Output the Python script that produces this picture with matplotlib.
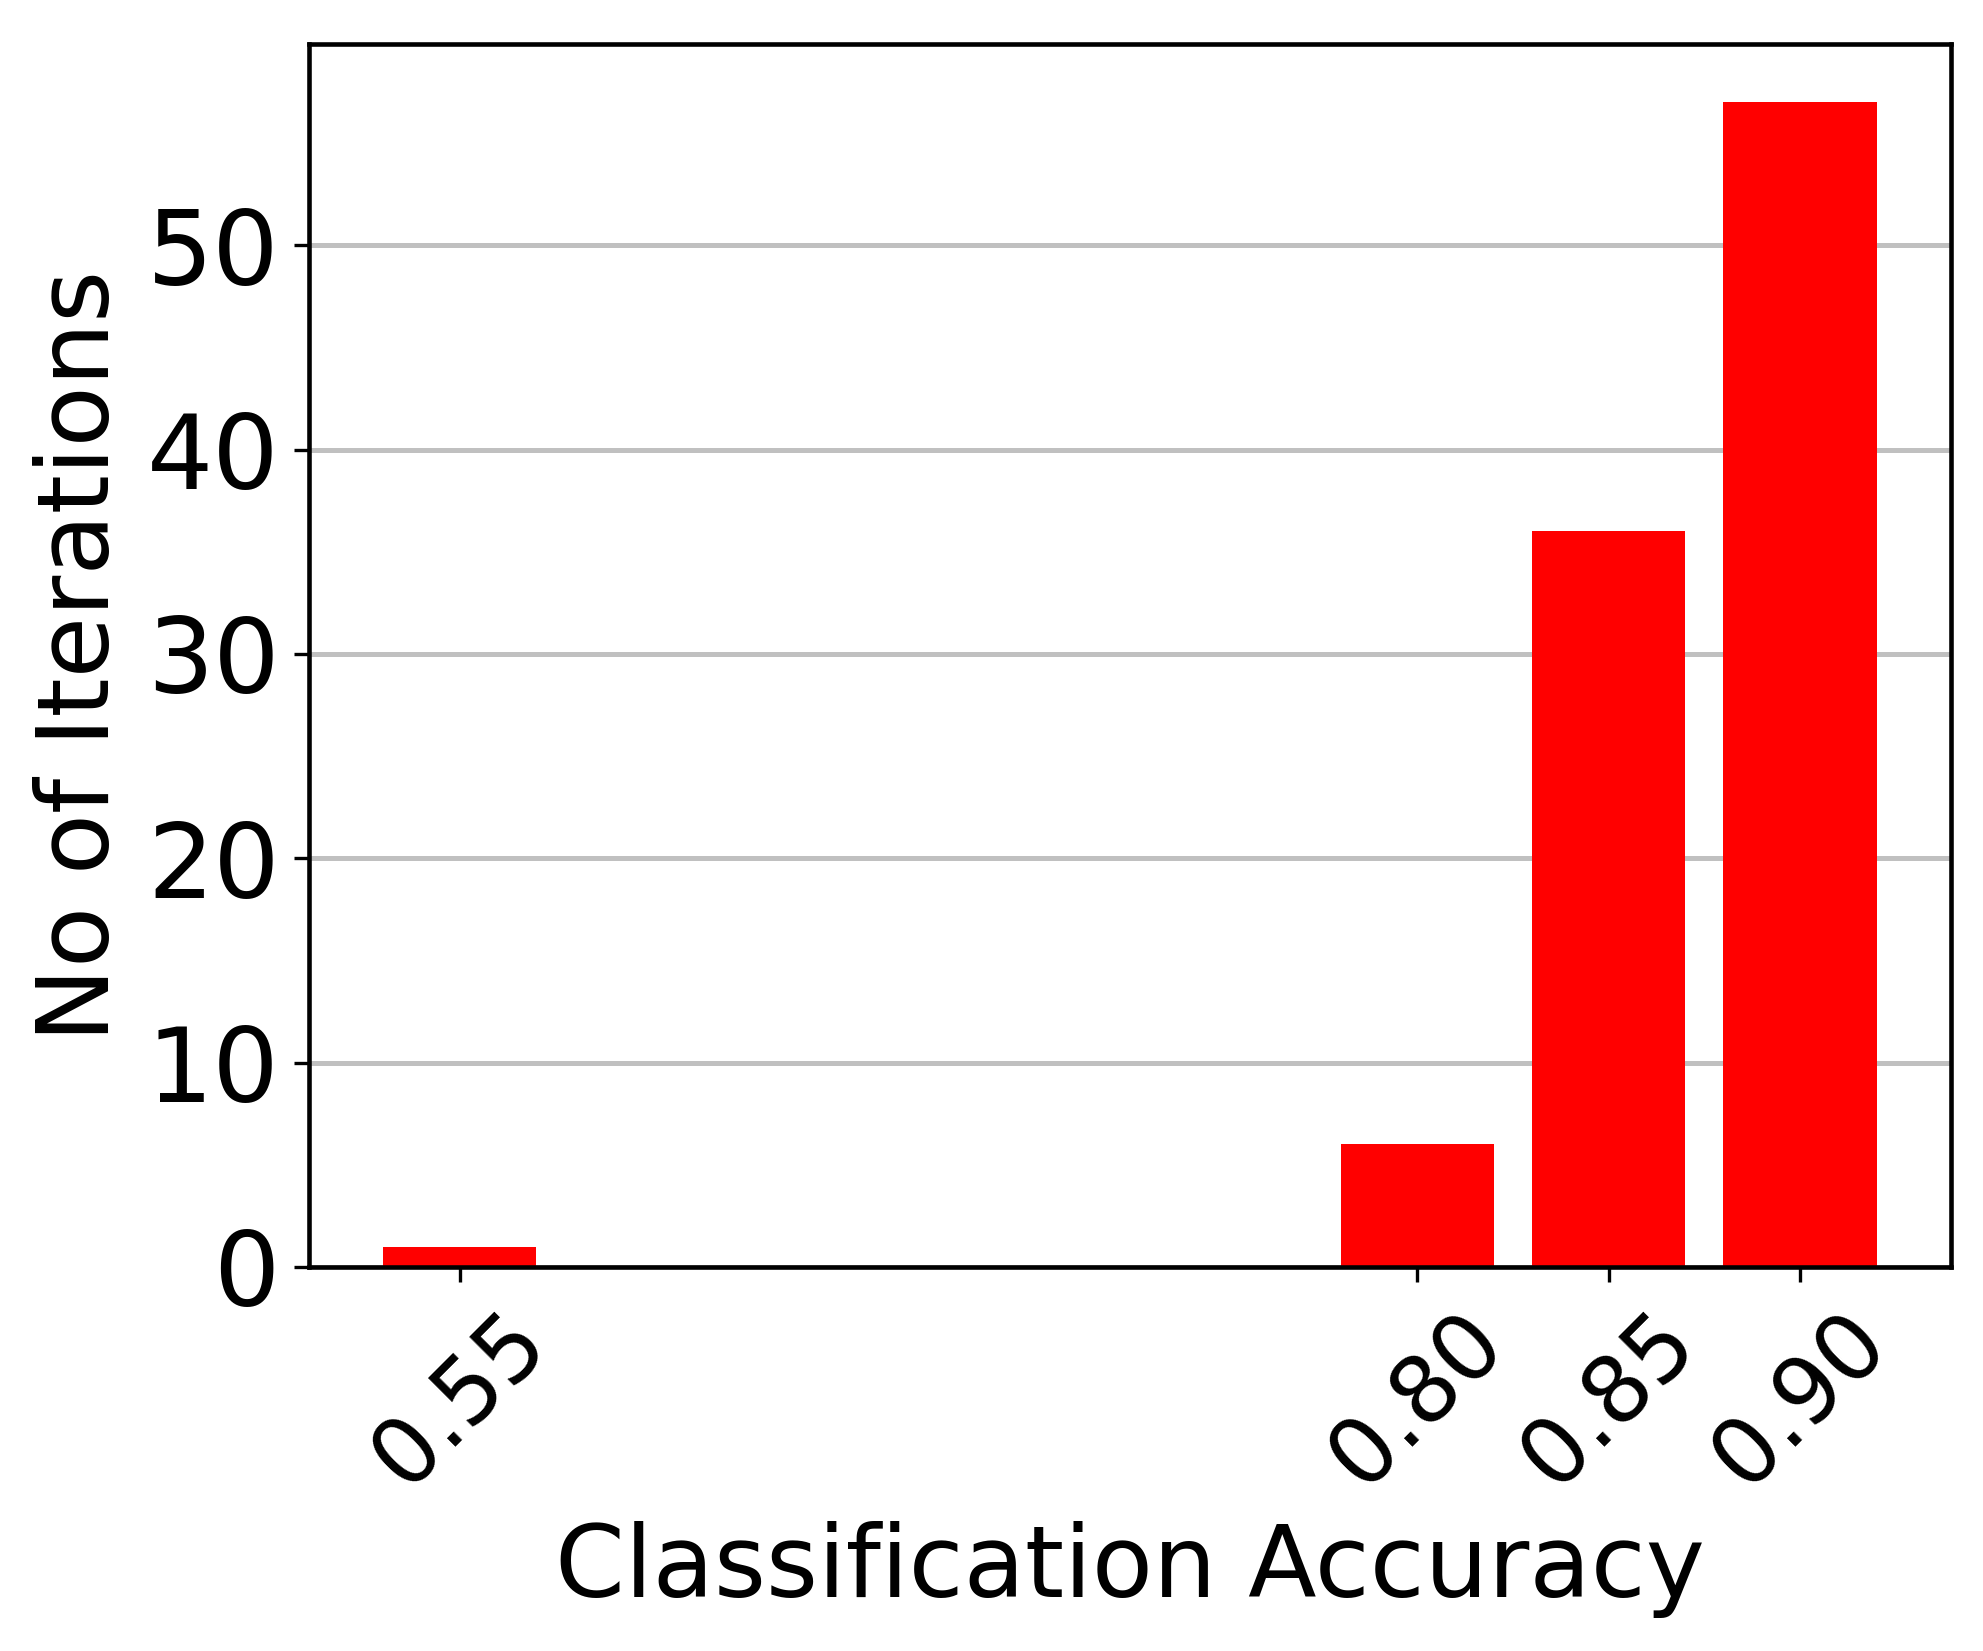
import matplotlib
matplotlib.use('Agg')
import matplotlib.pyplot as plt

accuracy = [0.55, 0.80, 0.85, 0.90]
iterations = [1, 6, 36, 57]
tick_labels = ['0.55', '0.80', '0.85', '0.90']
y_ticks = [0, 10, 20, 30, 40, 50]

fig = plt.figure(figsize=(1983 / 300, 1651 / 300), dpi=300)
ax = fig.add_axes([0.1556, 0.2326, 0.8284, 0.7407])
ax.set_axisbelow(True)
ax.yaxis.grid(True, color='#c0c0c0', linewidth=1.2)
ax.bar(accuracy, iterations, width=0.04, color='red')

ax.set_xticks(accuracy)
ax.set_xticklabels(tick_labels, rotation=45, fontsize=22)
ax.set_yticks(y_ticks)
ax.tick_params(axis='y', labelsize=25)
ax.set_xlabel('Classification Accuracy', fontsize=24)
ax.set_ylabel('No of Iterations', fontsize=24)
for s in ax.spines.values():
    s.set_linewidth(1.1)

fig.savefig('out.png', dpi=300)
